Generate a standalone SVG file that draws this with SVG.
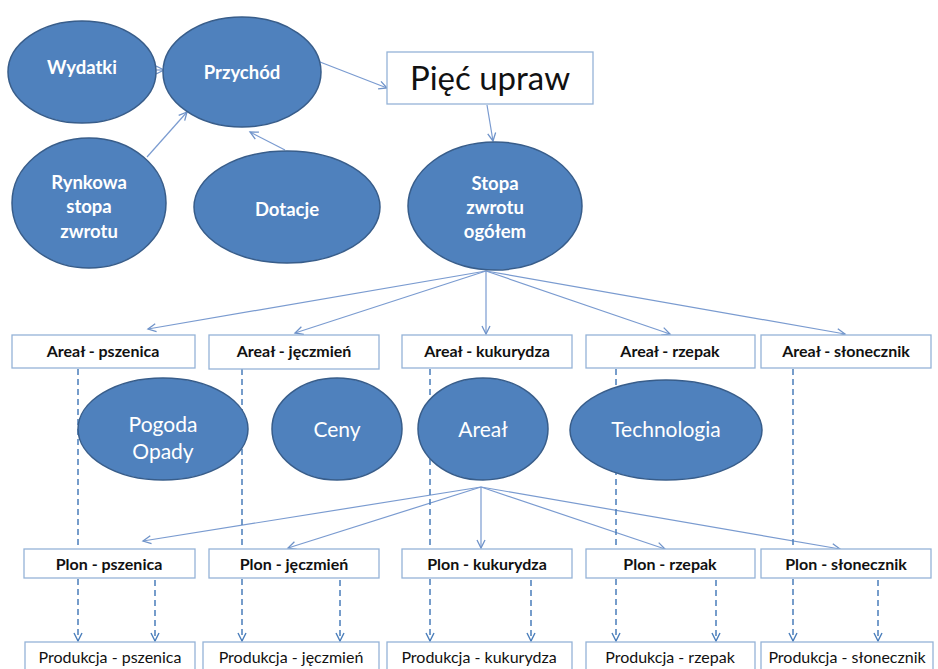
<svg xmlns="http://www.w3.org/2000/svg" width="938" height="669" viewBox="0 0 938 669">
<defs>
<marker id="arr" markerUnits="userSpaceOnUse" markerWidth="12" markerHeight="12" refX="9" refY="5" orient="auto">
<path d="M1,1 L9,5 L1,9" fill="none" stroke="#6f93c9" stroke-width="1.3"/>
</marker>
<marker id="arrd" markerUnits="userSpaceOnUse" markerWidth="12" markerHeight="12" refX="9" refY="5" orient="auto">
<path d="M1,1 L9,5 L1,9" fill="none" stroke="#4a7ebb" stroke-width="1.4"/>
</marker>
<style>
.ell{fill:#4f81bd;stroke:#385d8a;stroke-width:1.5}
.box{fill:#ffffff;stroke:#95b3d7;stroke-width:1.3}
.con{fill:none;stroke:#7a9bd0;stroke-width:1.2;marker-end:url(#arr)}
.dash{fill:none;stroke:#4a7ebb;stroke-width:1.5;stroke-dasharray:6 4;marker-end:url(#arrd)}
.tb{font-family:Lato,"Open Sans",sans-serif;font-weight:bold;font-size:18.5px;fill:#ffffff;text-anchor:middle}
.tm{font-family:Lato,"Open Sans",sans-serif;font-size:21px;fill:#ffffff;text-anchor:middle}
.lb{font-family:Lato,"Open Sans",sans-serif;font-weight:bold;font-size:16px;fill:#111111;text-anchor:middle}
.lp{font-family:Lato,"Open Sans",sans-serif;font-size:16px;fill:#111111;text-anchor:middle}
.big{font-family:Lato,"Open Sans",sans-serif;font-size:33px;fill:#111111;text-anchor:middle}
</style>
</defs>
<rect width="938" height="669" fill="#ffffff"/>
<g id="connectors">
<path class="con" d="M155,70 L164,70"/>
<path class="con" d="M320,62 L387,88"/>
<path class="con" d="M147,157 L187,112"/>
<path class="con" d="M285,150 L250,132"/>
<path class="con" d="M487,105 L493,141"/>
<path class="con" d="M486,271 L148,329"/>
<path class="con" d="M486,271 L295,333"/>
<path class="con" d="M486,271 L486,334"/>
<path class="con" d="M486,271 L670,334"/>
<path class="con" d="M486,271 L845,334"/>
<path class="con" d="M481,487 L143,541"/>
<path class="con" d="M481,487 L288,548"/>
<path class="con" d="M481,487 L481,548"/>
<path class="con" d="M481,487 L665,549"/>
<path class="con" d="M481,487 L840,549"/>
<path class="dash" d="M78,369 L78,641"/>
<path class="dash" d="M242,369 L242,641"/>
<path class="dash" d="M430,369 L430,641"/>
<path class="dash" d="M616,369 L616,641"/>
<path class="dash" d="M793,369 L793,641"/>
<path class="dash" d="M155,580 L155,641"/>
<path class="dash" d="M340,580 L340,641"/>
<path class="dash" d="M531,580 L531,641"/>
<path class="dash" d="M716,580 L716,641"/>
<path class="dash" d="M878,580 L878,641"/>
</g>
<g id="wydatki"><ellipse class="ell" cx="82" cy="72" rx="74" ry="51"/><text class="tb" x="82" y="74">Wydatki</text></g>
<g id="przychod"><ellipse class="ell" cx="242" cy="72" rx="79" ry="55"/><text class="tb" x="242" y="79">Przychód</text></g>
<g id="rynkowa"><ellipse class="ell" cx="89" cy="203" rx="77" ry="65"/><text class="tb" x="89" y="189">Rynkowa</text><text class="tb" x="89" y="213">stopa</text><text class="tb" x="89" y="238">zwrotu</text></g>
<g id="dotacje"><ellipse class="ell" cx="287" cy="207" rx="93" ry="56"/><text class="tb" x="287" y="216">Dotacje</text></g>
<g id="piec"><rect class="box" x="387" y="52" width="206" height="52"/><text class="big" x="490" y="90">Pięć upraw</text></g>
<g id="stopa"><ellipse class="ell" cx="495" cy="206" rx="87" ry="64"/><text class="tb" x="495" y="190">Stopa</text><text class="tb" x="495" y="214">zwrotu</text><text class="tb" x="495" y="238">ogółem</text></g>
<g id="areal-pszenica"><rect class="box" x="12" y="335" width="183" height="33"/><text class="lb" x="103" y="357">Areał - pszenica</text></g>
<g id="areal-jeczmien"><rect class="box" x="209" y="335" width="170" height="34"/><text class="lb" x="294" y="357">Areał - jęczmień</text></g>
<g id="areal-kukurydza"><rect class="box" x="402" y="335" width="170" height="33"/><text class="lb" x="487" y="357">Areał - kukurydza</text></g>
<g id="areal-rzepak"><rect class="box" x="586" y="335" width="169" height="33"/><text class="lb" x="670" y="357">Areał - rzepak</text></g>
<g id="areal-slonecznik"><rect class="box" x="761" y="335" width="170" height="33"/><text class="lb" x="846" y="357">Areał - słonecznik</text></g>
<g id="pogoda"><ellipse class="ell" cx="163" cy="429" rx="85" ry="51"/><text class="tm" x="163" y="432">Pogoda</text><text class="tm" x="163" y="459">Opady</text></g>
<g id="ceny"><ellipse class="ell" cx="337" cy="429" rx="65" ry="51"/><text class="tm" x="337" y="437">Ceny</text></g>
<g id="areal"><ellipse class="ell" cx="483" cy="429" rx="65" ry="51"/><text class="tm" x="483" y="437">Areał</text></g>
<g id="technologia"><ellipse class="ell" cx="666" cy="430" rx="96" ry="50"/><text class="tm" x="666" y="437">Technologia</text></g>
<g id="plon-pszenica"><rect class="box" x="24" y="549" width="171" height="29"/><text class="lb" x="109" y="570">Plon - pszenica</text></g>
<g id="plon-jeczmien"><rect class="box" x="209" y="549" width="170" height="29"/><text class="lb" x="294" y="570">Plon - jęczmień</text></g>
<g id="plon-kukurydza"><rect class="box" x="402" y="549" width="170" height="29"/><text class="lb" x="487" y="570">Plon - kukurydza</text></g>
<g id="plon-rzepak"><rect class="box" x="586" y="549" width="169" height="29"/><text class="lb" x="670" y="570">Plon - rzepak</text></g>
<g id="plon-slonecznik"><rect class="box" x="761" y="549" width="170" height="29"/><text class="lb" x="846" y="570">Plon - słonecznik</text></g>
<g id="prod-pszenica"><rect class="box" x="25" y="642" width="170" height="40"/><text class="lp" x="110" y="663">Produkcja - pszenica</text></g>
<g id="prod-jeczmien"><rect class="box" x="203" y="642" width="176" height="40"/><text class="lp" x="291" y="663">Produkcja - jęczmień</text></g>
<g id="prod-kukurydza"><rect class="box" x="387" y="642" width="185" height="40"/><text class="lp" x="479" y="663">Produkcja - kukurydza</text></g>
<g id="prod-rzepak"><rect class="box" x="586" y="642" width="169" height="40"/><text class="lp" x="670" y="663">Produkcja - rzepak</text></g>
<g id="prod-slonecznik"><rect class="box" x="761" y="642" width="172" height="40"/><text class="lp" x="847" y="663">Produkcja - słonecznik</text></g>
</svg>
